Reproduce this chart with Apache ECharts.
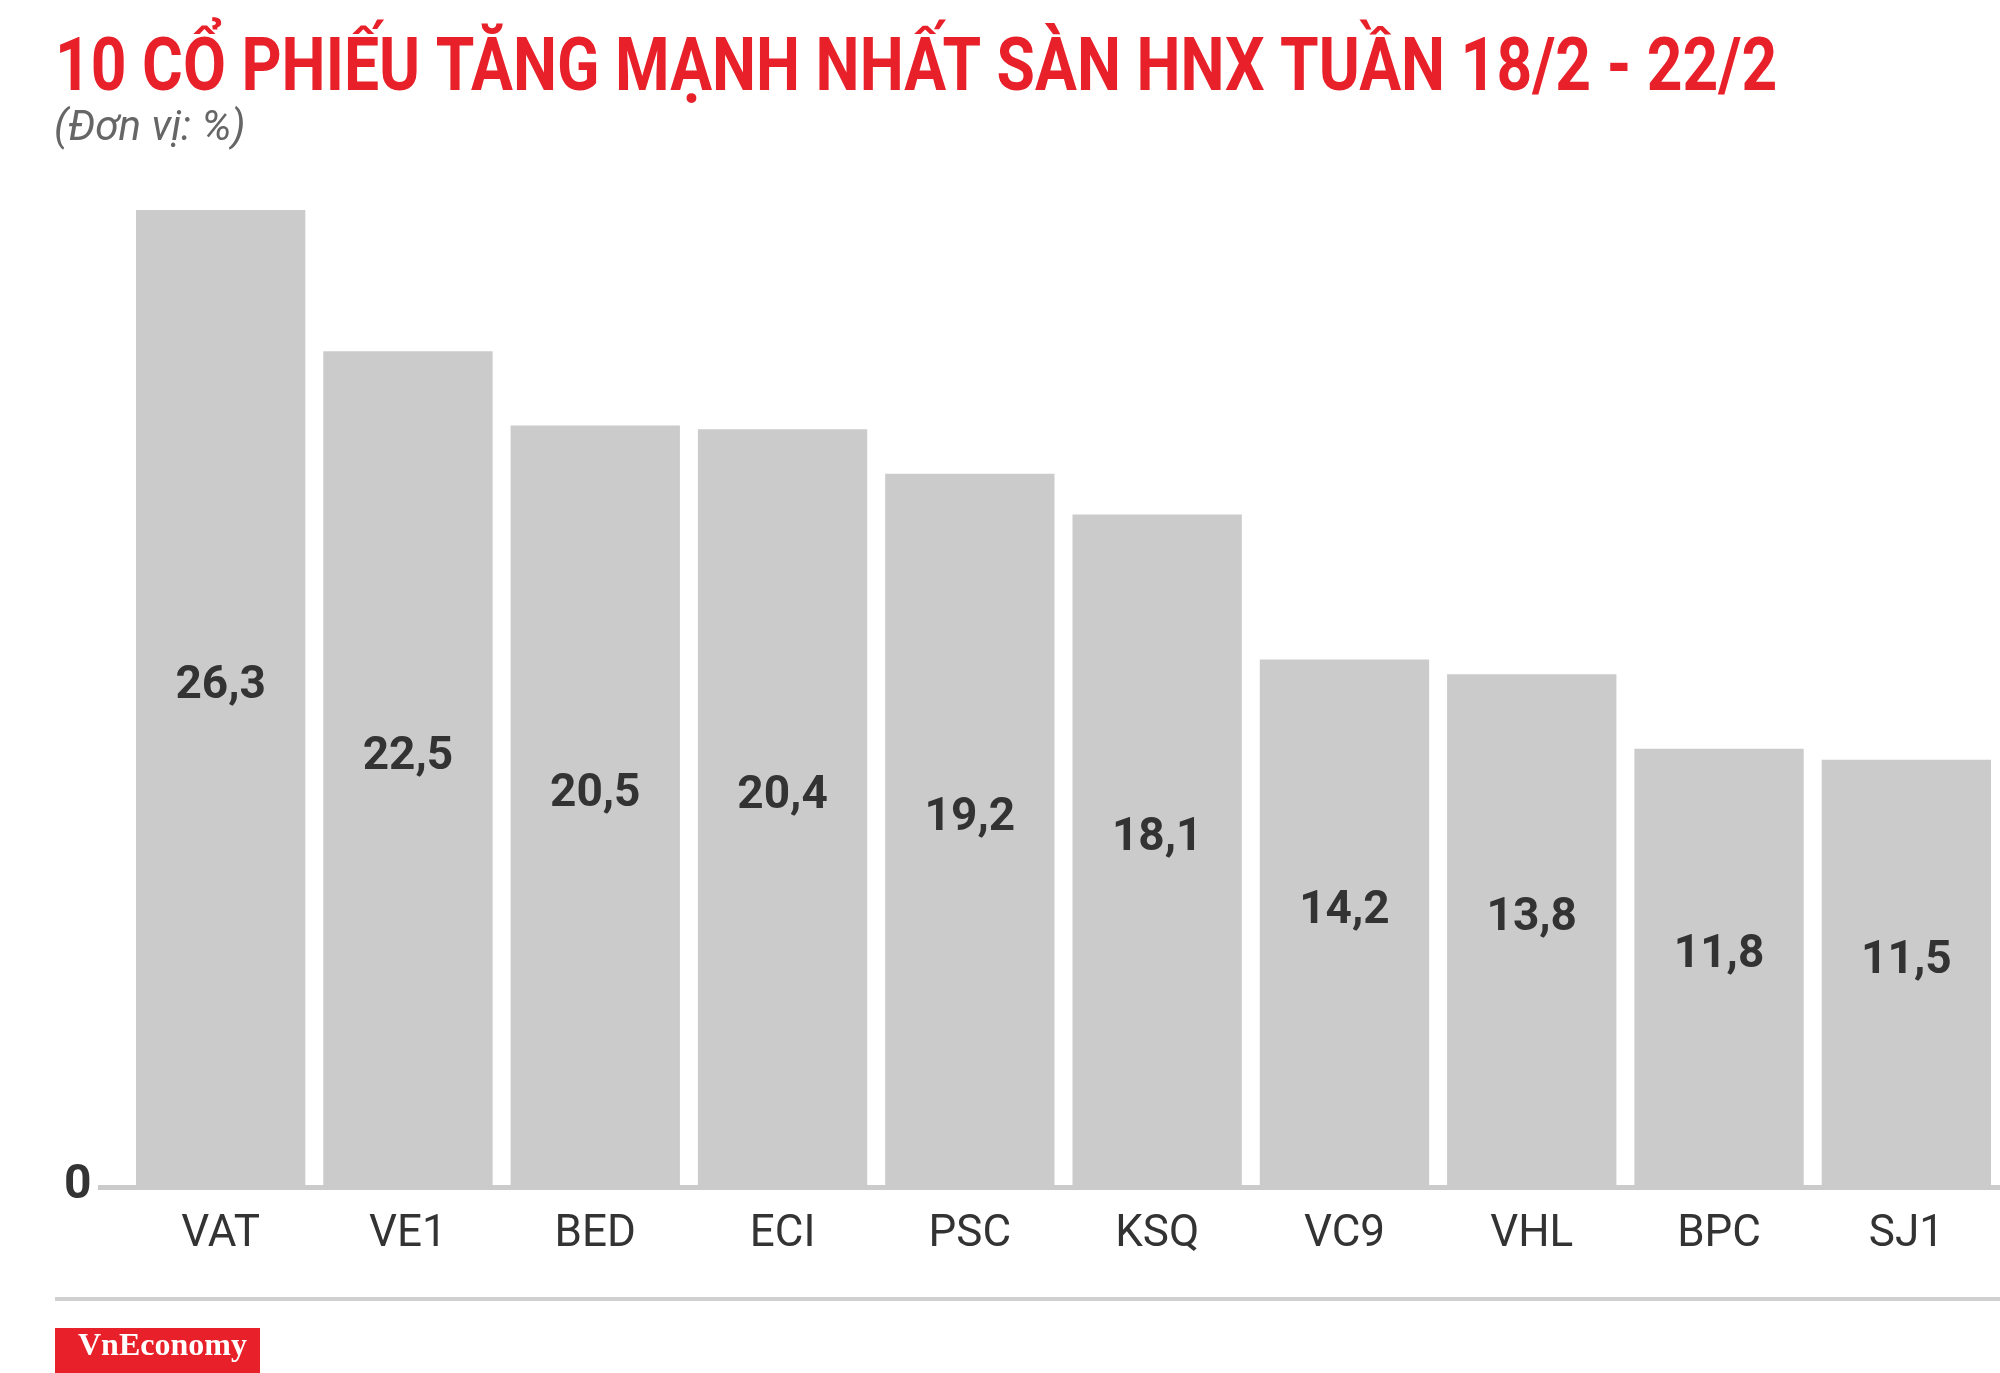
<!DOCTYPE html>
<html><head><meta charset="utf-8">
<script src="https://cdn.jsdelivr.net/npm/echarts@6/dist/echarts.min.js"></script>
<style>html,body{margin:0;padding:0;background:#fff}#c{width:2000px;height:1373px}</style>
</head><body><div id="c"></div>
<script>
const categories = ['VAT','VE1','BED','ECI','PSC','KSQ','VC9','VHL','BPC','SJ1'];
const values = [26.3,22.5,20.5,20.4,19.2,18.1,14.2,13.8,11.8,11.5];
const chart = echarts.init(document.getElementById('c'));
chart.setOption({
  animation:false,
  grid:{left:127,top:210,width:1884,bottom:186},
  xAxis:{type:'category',data:categories,axisTick:{show:false},axisLine:{show:false},
    axisLabel:{color:'#333',fontFamily:'Roboto',fontSize:44,margin:26}},
  yAxis:{type:'value',min:0,max:26.3,splitLine:{show:false},axisLine:{show:false},axisTick:{show:false},
    axisLabel:{show:false}},
  series:[{type:'bar',data:values,barCategoryGap:'9.6%',itemStyle:{color:'#cccbcb'},
    label:{show:true,position:'inside',offset:[0,-12],color:'#333',fontFamily:'Roboto',fontWeight:'bold',fontSize:46,
      formatter:p=>String(p.value).replace('.',',')}}],
  graphic:[
    {type:'text',x:55,y:34,scaleX:0.843,style:{text:'10 CỔ PHIẾU TĂNG MẠNH NHẤT SÀN HNX TUẦN 18/2 - 22/2',fill:'#e8202a',font:'bold 74px Roboto'}},
    {type:'text',x:54,y:108,style:{text:'(Đơn vị: %)',fill:'#666',font:'italic 42px Roboto'}},
    {type:'rect',shape:{x:98,y:1185,width:1902,height:5},style:{fill:'#cccbcb'},z:0},
    {type:'text',left:64,top:1162,style:{text:'0',fill:'#333',font:'bold 48px Roboto'}},
    {type:'rect',shape:{x:55,y:1297,width:1945,height:4},style:{fill:'#d0d0d0'}},
    {type:'rect',shape:{x:55,y:1328,width:205,height:45},style:{fill:'#e8202a'}},
    {type:'text',left:78,top:1331,style:{text:'VnEconomy',fill:'#fff',font:'bold 32px "Liberation Serif"'}}
  ]
});
</script></body></html>
